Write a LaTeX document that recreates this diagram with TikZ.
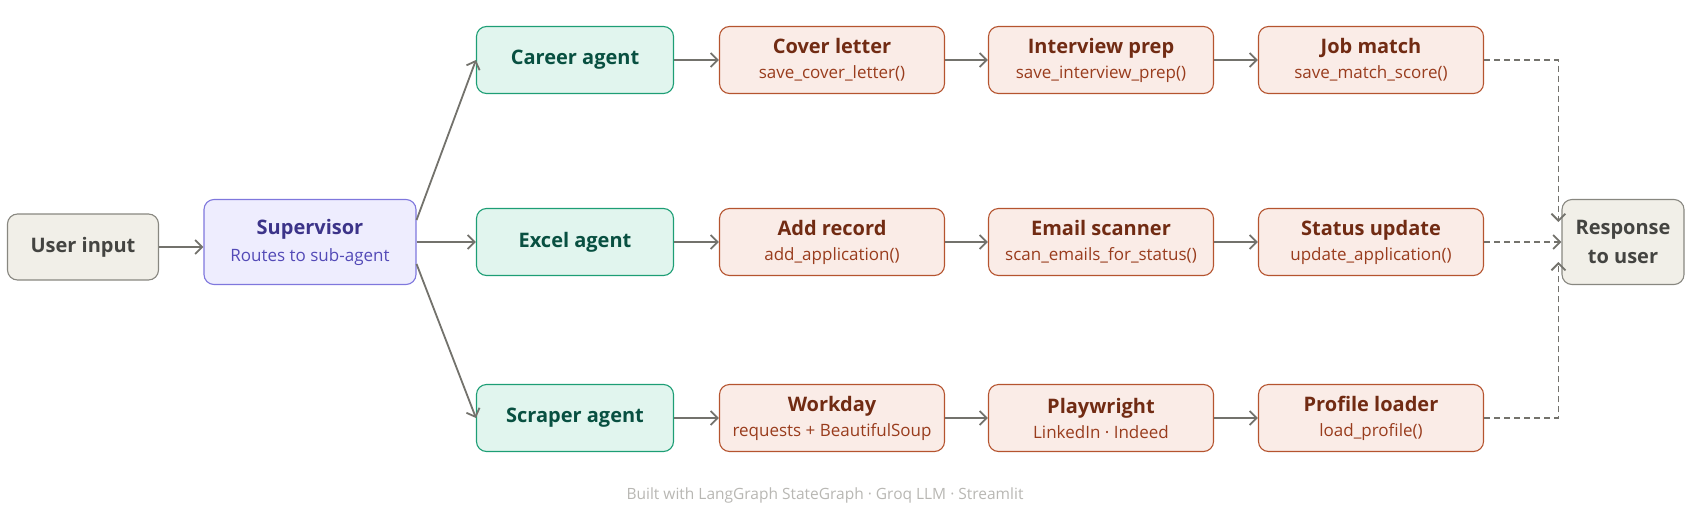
\documentclass[tikz,border=0pt]{standalone}
\usepackage{fontspec}
\setmainfont{Open Sans}
\usetikzlibrary{arrows.meta,calc}
\definecolor{gfill}{HTML}{F1EFE8}\definecolor{gdraw}{HTML}{888780}\definecolor{gtext}{HTML}{444441}
\definecolor{pfill}{HTML}{EEEDFE}\definecolor{pdraw}{HTML}{7F77DD}\definecolor{ptext}{HTML}{3C3489}\definecolor{psub}{HTML}{534AB7}
\definecolor{tfill}{HTML}{E1F5EE}\definecolor{tdraw}{HTML}{1D9E75}\definecolor{ttext}{HTML}{085041}
\definecolor{cfill}{HTML}{FAECE7}\definecolor{cdraw}{HTML}{B5542F}\definecolor{ctext}{HTML}{712B13}\definecolor{csub}{HTML}{993C1D}
\definecolor{arr}{HTML}{73726C}
\newcommand{\nolsk}{\lineskiplimit=-100pt\relax}
\newcommand{\tl}[2]{{\color{ctext}\bfseries\fontsize{20}{24}\selectfont #1}\\[13pt]{\color{csub}\fontsize{17}{20}\selectfont #2}}
\begin{document}
\begin{tikzpicture}[x=1pt,y=-1pt,
 box/.style={rounded corners=10pt,line width=1.1pt,inner sep=0pt,align=center},
 gray/.style={box,fill=gfill,draw=gdraw,text=gtext,font=\bfseries\fontsize{20}{29}\selectfont},
 sup/.style={box,fill=pfill,draw=pdraw,font=\nolsk},
 agent/.style={box,fill=tfill,draw=tdraw,text=ttext,font=\bfseries\fontsize{20}{24}\selectfont,minimum width=197pt,minimum height=67pt},
 tool/.style={box,fill=cfill,draw=cdraw,minimum width=225pt,minimum height=67pt,font=\nolsk},
 ar/.style={draw=arr,line width=1.8pt,-{Straight Barb[length=7pt,width=14pt,line width=1.8pt]}},
 dar/.style={ar,dashed,dash pattern=on 6pt off 4pt}]
\useasboundingbox (0,0) rectangle (1696,514);
\node[gray,minimum width=151pt,minimum height=66pt] (ui) at (83,247) {User input};
\node[sup,minimum width=212pt,minimum height=85pt] (sv) at (310,242) {{\color{ptext}\bfseries\fontsize{20}{24}\selectfont Supervisor}\\[15pt]{\color{psub}\fontsize{17}{20}\selectfont Routes to sub-agent}};
\node[agent] (ca) at (575,60) {Career agent};
\node[agent] (ea) at (575,242) {Excel agent};
\node[agent] (sa) at (575,418) {Scraper agent};
\node[tool] (c1) at (832,60) {\tl{Cover letter}{save\_cover\_letter()}};
\node[tool] (c2) at (1101,60) {\tl{Interview prep}{save\_interview\_prep()}};
\node[tool] (c3) at (1371,60) {\tl{Job match}{save\_match\_score()}};
\node[tool] (e1) at (832,242) {\tl{Add record}{add\_application()}};
\node[tool] (e2) at (1101,242) {\tl{Email scanner}{scan\_emails\_for\_status()}};
\node[tool] (e3) at (1371,242) {\tl{Status update}{update\_application()}};
\node[tool] (s1) at (832,418) {\tl{Workday}{requests + BeautifulSoup}};
\node[tool] (s2) at (1101,418) {\tl{Playwright}{LinkedIn · Indeed}};
\node[tool] (s3) at (1371,418) {\tl{Profile loader}{load\_profile()}};
\node[gray,minimum width=122pt,minimum height=85pt] (rs) at (1623,242) {Response\\to user};
\node[text=gdraw!60,font=\fontsize{15.5}{18}\selectfont] (ft) at (825,495) {Built with LangGraph StateGraph · Groq LLM · Streamlit};
\draw[ar] (ui.east) -- (ui.east -| sv.west);
\draw[ar] ($(sv.east)+(0,-22)$) -- (ca.west);
\draw[ar] (sv.east) -- (ea.west);
\draw[ar] ($(sv.east)+(0,22)$) -- (sa.west);
\foreach \a/\b in {ca/c1,c1/c2,c2/c3,ea/e1,e1/e2,e2/e3,sa/s1,s1/s2,s2/s3} \draw[ar] (\a) -- (\b);
\coordinate (vx) at ($(rs.west)+(-3,0)$);
\draw[dar] (c3.east) -| ($(vx)+(0,-20)$);
\draw[dar] (e3.east) -- (rs.west);
\draw[dar] (s3.east) -| ($(vx)+(0,20)$);
\end{tikzpicture}
\end{document}
